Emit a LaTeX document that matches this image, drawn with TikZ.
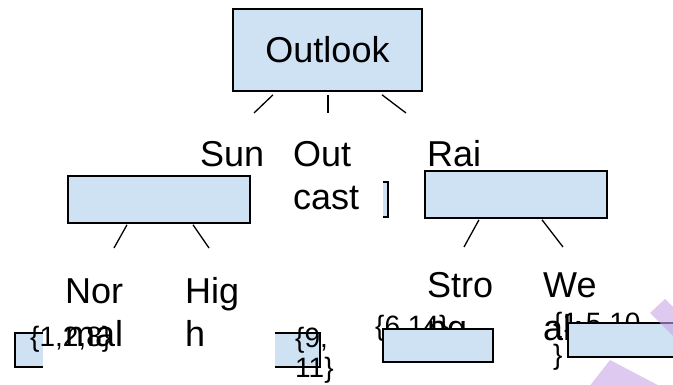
\documentclass[tikz,border=0pt]{standalone}
\usepackage{fontspec}
\setmainfont{Liberation Sans}
\definecolor{boxblue}{HTML}{CFE2F3}
\definecolor{wmark}{RGB}{200,165,230}
\begin{document}
\begin{tikzpicture}[x=1pt,y=-1pt,
  box/.style={draw=black,line width=1.6pt,fill=boxblue,inner sep=0pt},
  fillbox/.style={fill=boxblue,inner sep=0pt},
  edgeline/.style={line width=1.3pt},
  part/.style={line width=1.6pt},
  lbl/.style={anchor=base west,inner sep=0pt,font=\fontsize{36}{43}\selectfont},
  sml/.style={anchor=base west,inner sep=0pt,font=\fontsize{28}{30}\selectfont},
  wm/.style={fill=wmark,fill opacity=0.6}]
\useasboundingbox (0,0) rectangle (673,385);

% labels
\node[lbl] (tSun) at (200,167) {Sun};
\node[lbl] (tOut) at (293,167) {Out};
\node[lbl] (tCast) at (293,210) {cast};
\node[lbl] (tRai) at (427,167) {Rai};
\node[lbl] (tNor) at (65,303) {Nor};
\node[lbl] (tMal) at (65,346) {mal};
\node[lbl] (tHig) at (185,303) {Hig};
\node[lbl] (tH) at (185,346) {h};
\node[lbl] (tStro) at (427,298) {Stro};
\node[lbl] (tNg) at (427,341) {ng};
\node[lbl] (tWe) at (543,298) {We};
\node[lbl] (tAk) at (543,341) {ak};

% main boxes
\node[box,minimum width=189pt,minimum height=82pt,font=\fontsize{36}{43}\selectfont] (outlook) at (327.5,50) {Outlook};
\node[box,minimum width=182pt,minimum height=47pt] (sunny) at (159,199.5) {};
\node[box,minimum width=182pt,minimum height=47pt] (rain) at (516,194.5) {};

% connectors
\coordinate (e1) at (254,113);
\coordinate (e2) at (328,113);
\coordinate (e3) at (406,113);
\draw[edgeline] ([xshift=-54.5pt,yshift=-3pt]outlook.south) -- (e1);
\draw[edgeline] ([xshift=0.5pt,yshift=-3pt]outlook.south) -- (e2);
\draw[edgeline] ([xshift=54.5pt,yshift=-3pt]outlook.south) -- (e3);
\coordinate (e4) at (114,248);
\coordinate (e5) at (209,248);
\draw[edgeline] ([xshift=-32pt,yshift=-1pt]sunny.south) -- (e4);
\draw[edgeline] ([xshift=34pt,yshift=-1pt]sunny.south) -- (e5);
\coordinate (e6) at (464,247);
\coordinate (e7) at (563,247);
\draw[edgeline] ([xshift=-37pt,yshift=-1pt]rain.south) -- (e6);
\draw[edgeline] ([xshift=26pt,yshift=-1pt]rain.south) -- (e7);

% partial boxes
\node[fillbox,minimum width=5pt,minimum height=35pt] (bcast) at (385.5,199.5) {};
\draw[part] (bcast.north west) -- (bcast.north east) -- (bcast.south east) -- (bcast.south west);
\node[fillbox,minimum width=28pt,minimum height=34pt] (b128) at (29,350) {};
\draw[part] (b128.north east) -- (b128.north west) -- (b128.south west) -- (b128.south east);
\node[fillbox,minimum width=45pt,minimum height=34pt] (b911) at (297.5,350) {};
\draw[part] (b911.north west) -- (b911.north east) -- (b911.south east) -- (b911.south west);

% small texts drawn over partial boxes
\node[sml] (s128) at (30,346) {\{1,2,8\}};
\node[sml] (s9) at (295,347) {\{9,};
\node[sml] (s11) at (295,377) {11\}};
\node[sml] (s614) at (375,335) {\{6,14\}};
\node[sml] (s15) at (553,332) {\{1,5,10,};
\node[sml] (s15b) at (553,364) {\}};

% leaf boxes on top
\node[box,minimum width=110pt,minimum height=33pt] (b614) at (438,345.5) {};
\begin{scope}
\clip (0,0) rectangle (673,385);
\node[box,minimum width=132pt,minimum height=34pt] (bweak) at (634,340) {};
\fill[wm] (650,313) -- (665,299) -- (720,354) -- (705,368) -- cycle;
\fill[wm] (585,392) -- (610,360) -- (690,402) -- (668,425) -- cycle;
\end{scope}
\end{tikzpicture}
\end{document}
